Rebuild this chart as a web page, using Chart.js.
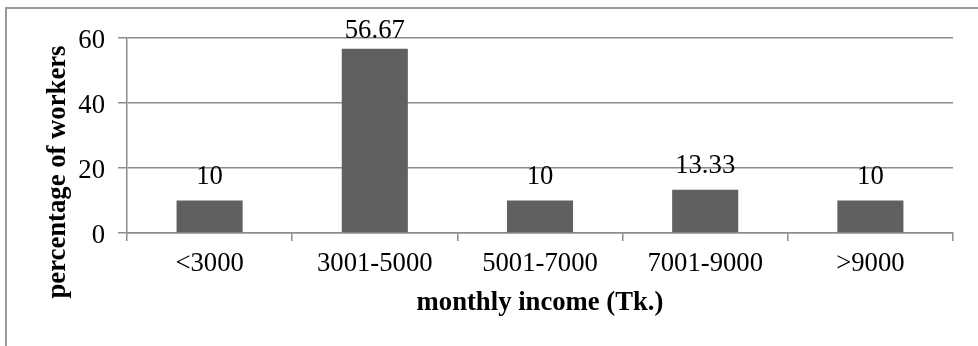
<!DOCTYPE html>
<html>
<head>
<meta charset="utf-8">
<title>Monthly income of workers</title>
<script src="https://cdn.jsdelivr.net/npm/chart.js@4/dist/chart.umd.min.js"></script>
<style>
  html, body { margin: 0; padding: 0; background: #ffffff; }
  canvas { display: block; }
</style>
</head>
<body>
<canvas id="incomeChart" width="978" height="346"></canvas>
<script>
// Income groups and share of workers in each (%)
const categories = ['<3000', '3001-5000', '5001-7000', '7001-9000', '>9000'];
const workerShare = [10, 56.67, 10, 13.33, 10];
const yTicks = [0, 20, 40, 60];
const yAxisTitle = 'percentage of workers';
const xAxisTitle = 'monthly income (Tk.)';

const SERIF = '"Liberation Serif", "Times New Roman", Times, serif';
const FONT_SIZE = 26.7;
const LINE = '#8c8c8c';

// Thin frame round the chart (left and top edges fall inside the view)
const framePlugin = {
  id: 'frame',
  beforeDraw(chart) {
    const ctx = chart.ctx;
    ctx.save();
    ctx.strokeStyle = '#9a9a9a';
    ctx.lineWidth = 2;
    ctx.strokeRect(6, 8, chart.width + 100, chart.height + 100);
    ctx.restore();
  }
};

// Value labels above each bar, kept from rising above the plot top
const valueLabelPlugin = {
  id: 'valueLabels',
  afterDatasetsDraw(chart) {
    const ctx = chart.ctx;
    const meta = chart.getDatasetMeta(0);
    const values = chart.data.datasets[0].data;
    ctx.save();
    ctx.font = FONT_SIZE + 'px ' + SERIF;
    ctx.fillStyle = '#000000';
    ctx.textAlign = 'center';
    ctx.textBaseline = 'alphabetic';
    meta.data.forEach((bar, i) => {
      const y = Math.max(bar.y - 17, chart.chartArea.top);
      ctx.fillText(String(values[i]), bar.x, y);
    });
    ctx.restore();
  }
};

// Rotated y-axis title
const yTitlePlugin = {
  id: 'yTitle',
  afterDraw(chart) {
    const ctx = chart.ctx;
    ctx.save();
    ctx.translate(58.5, 172);
    ctx.rotate(-Math.PI / 2);
    ctx.font = 'bold ' + FONT_SIZE + 'px ' + SERIF;
    ctx.fillStyle = '#000000';
    ctx.textAlign = 'center';
    ctx.textBaseline = 'middle';
    ctx.fillText(yAxisTitle, 0, 0);
    ctx.restore();
  }
};

new Chart(document.getElementById('incomeChart'), {
  type: 'bar',
  data: {
    labels: categories,
    datasets: [{
      data: workerShare,
      backgroundColor: '#606060',
      borderWidth: 0,
      barPercentage: 0.4,
      categoryPercentage: 1.0
    }]
  },
  options: {
    responsive: false,
    animation: false,
    devicePixelRatio: 1,
    layout: { padding: { left: 0, top: 38, right: 25, bottom: 0 } },
    plugins: {
      legend: { display: false },
      tooltip: { enabled: false }
    },
    scales: {
      x: {
        grid: {
          display: true,
          drawOnChartArea: false,
          drawTicks: true,
          tickLength: 8,
          offset: true,
          color: LINE,
          lineWidth: 1.5
        },
        border: { display: true, color: LINE, width: 1.5 },
        ticks: {
          color: '#000000',
          padding: 7,
          maxRotation: 0,
          autoSkip: false,
          font: { family: SERIF, size: FONT_SIZE }
        },
        title: {
          display: true,
          text: xAxisTitle,
          color: '#000000',
          padding: { top: 0, bottom: 27 },
          font: { family: SERIF, size: FONT_SIZE, weight: 'bold' }
        },
        afterFit(scale) { scale.height = 346 - 233; }
      },
      y: {
        min: 0,
        max: 60,
        afterBuildTicks(scale) { scale.ticks = yTicks.map(v => ({ value: v })); },
        grid: {
          color: LINE,
          lineWidth: 1.5,
          drawTicks: true,
          tickLength: 9
        },
        border: { display: true, color: LINE, width: 1.5 },
        ticks: {
          color: '#000000',
          padding: 13,
          labelOffset: 2.5,
          font: { family: SERIF, size: FONT_SIZE }
        },
        title: { display: false },
        afterFit(scale) { scale.width = 127; }
      }
    }
  },
  plugins: [framePlugin, valueLabelPlugin, yTitlePlugin]
});
</script>
</body>
</html>
